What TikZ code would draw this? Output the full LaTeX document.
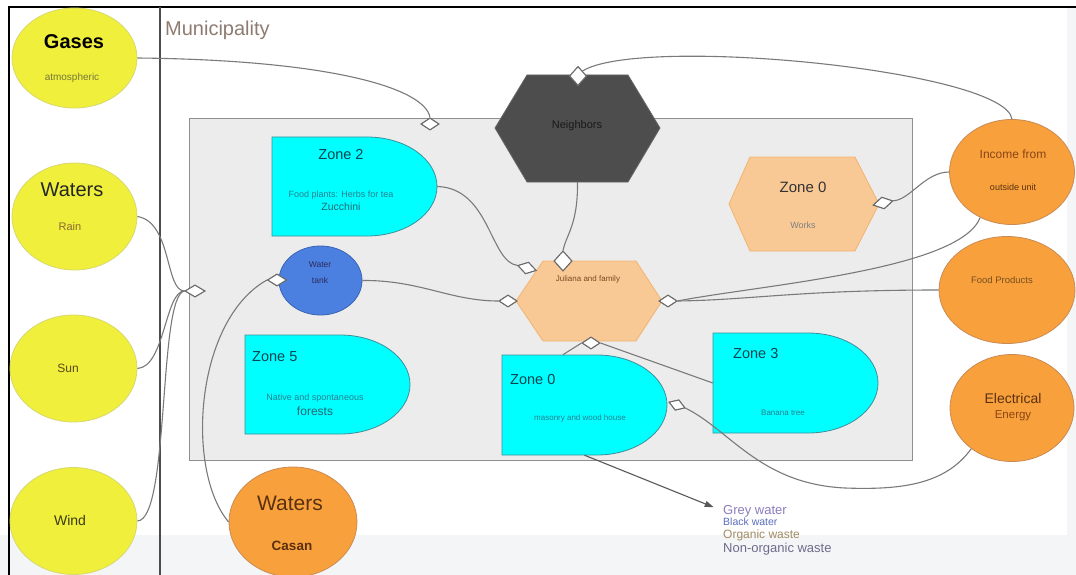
\documentclass[tikz,border=0pt]{standalone}
\usepackage{fontspec}
\setmainfont{Liberation Sans}
\usetikzlibrary{shapes.geometric,arrows.meta,calc}
\definecolor{yfill}{HTML}{EFEF3C}
\definecolor{ybord}{HTML}{D8D870}
\definecolor{ofill}{HTML}{F8A13C}
\definecolor{obord}{HTML}{C98A55}
\definecolor{cfill}{HTML}{00FFFF}
\definecolor{cbord}{HTML}{3F8F99}
\definecolor{hfill}{HTML}{F8C995}
\definecolor{hbord}{HTML}{F1B472}
\definecolor{nfill}{HTML}{4D4D4D}
\definecolor{tfill}{HTML}{4C80E0}
\definecolor{tbord}{HTML}{3A63B5}
\definecolor{mfill}{HTML}{ECECEC}
\definecolor{mbord}{HTML}{8F8F8F}
\definecolor{lineg}{HTML}{7A7A7A}
\definecolor{diag}{HTML}{6A6A6A}
\definecolor{bandc}{HTML}{F4F5F7}
\definecolor{ztxt}{HTML}{0A4450}
\definecolor{zsub}{HTML}{2A8090}
\definecolor{otxt}{HTML}{5A3010}
\definecolor{obrown}{HTML}{8A4414}
\definecolor{fptxt}{HTML}{7A4E20}
\definecolor{muntxt}{HTML}{8E7B72}
\definecolor{raintxt}{HTML}{8A6A30}
\definecolor{atmtxt}{HTML}{77773E}
\definecolor{sunt}{HTML}{5A4A14}
\definecolor{windt}{HTML}{3A3A14}
\definecolor{jultxt}{HTML}{7A4A22}
\definecolor{tanktxt}{HTML}{2A2A5A}
\definecolor{lgone}{HTML}{8C7CBC}
\definecolor{lgtwo}{HTML}{5A6FBE}
\definecolor{lgthree}{HTML}{A08C62}
\definecolor{lgfour}{HTML}{6C6C8C}
\newcommand\fsz[1]{\fontsize{#1}{#1}\selectfont}
\tikzset{
 conn/.style={draw=lineg,line width=1.1pt},
 dia/.style={diamond,draw=diag,fill=white,line width=1pt,inner sep=0pt,minimum width=19pt,minimum height=12pt},
 bub/.style={ellipse,line width=0.8pt,inner sep=0pt},
 ybub/.style={bub,draw=ybord,fill=yfill},
 obub/.style={bub,draw=obord,fill=ofill},
 zonep/.style={draw=cbord,fill=cfill,line width=0.8pt},
 hexp/.style={draw=hbord,fill=hfill,line width=0.8pt},
 area/.style={rectangle,inner sep=0pt},
 txt/.style={inner sep=0pt},
}
\begin{document}
\begin{tikzpicture}[x=1pt,y=-1pt]
\useasboundingbox (0,0) rectangle (1076,575);
\fill[white] (0,0) rectangle (1076,575);
\fill[bandc] (0,535) rectangle (1076,575);
\fill[bandc] (1067,8) rectangle (1076,575);
% frame
\draw[line width=2pt] (9,576) -- (9,7) -- (1077,7);
\draw[line width=1.2pt,color=black!70] (160,7) -- (160,576);
\node[txt,anchor=west,text=muntxt,font=\fsz{20}] (muntitle) at (165,30) {Municipality};
% municipality area
\node[area,draw=mbord,fill=mfill,line width=1pt,minimum width=723pt,minimum height=341pt] (mun) at (550.5,289.5) {};
% left bubbles
\node[ybub,minimum width=125pt,minimum height=100pt] (gas) at (74.5,58) {};
\node[ybub,minimum width=125pt,minimum height=107pt] (wat) at (74.5,216.5) {};
\node[ybub,minimum width=127pt,minimum height=107pt] (sun) at (73.5,368.5) {};
\node[ybub,minimum width=127pt,minimum height=107pt] (wind) at (73.5,521) {};
\node[txt,font=\bfseries\fsz{20}] (tgas) at (74,42) {Gases};
\node[txt,font=\fsz{10},text=atmtxt] (tatm) at (72,78) {atmospheric};
\node[txt,font=\fsz{20},text=black!85] (twat) at (72,190) {Waters};
\node[txt,font=\fsz{11},text=raintxt] (train) at (70,227) {Rain};
\node[txt,font=\fsz{12},text=sunt] (tsun) at (68,368) {Sun};
\node[txt,font=\fsz{14},text=windt] (twind) at (70,520) {Wind};
% zones (D shapes)
\path[zonep] (272,137) -- (367,137) arc[start angle=90,end angle=-90,x radius=70pt,y radius=49.5pt] -- (272,236) -- cycle;
\node[area,minimum width=165pt,minimum height=99pt] (z2) at (354.5,186.5) {};
\path[zonep] (245,335) -- (340,335) arc[start angle=90,end angle=-90,x radius=70pt,y radius=49.5pt] -- (245,434) -- cycle;
\node[area,minimum width=165pt,minimum height=99pt] (z5) at (327.5,384.5) {};
\path[zonep] (502,355) -- (597,355) arc[start angle=90,end angle=-90,x radius=70pt,y radius=50pt] -- (502,455) -- cycle;
\node[area,minimum width=165pt,minimum height=100pt] (z0b) at (584.5,405) {};
\path[zonep] (713,333) -- (808,333) arc[start angle=90,end angle=-90,x radius=70pt,y radius=50pt] -- (713,433) -- cycle;
\node[area,minimum width=165pt,minimum height=100pt] (z3) at (795.5,383) {};
\node[txt,font=\fsz{14.5},text=ztxt] (tz2) at (341,155) {Zone 2};
\node[txt,font=\fsz{9},text=zsub] (tz2a) at (341,195) {Food plants: Herbs for tea};
\node[txt,font=\fsz{10.5},text=zsub!80!black] (tz2b) at (341,207) {Zucchini};
\node[txt,anchor=west,font=\fsz{14.5},text=ztxt] (tz5) at (252,357) {Zone 5};
\node[txt,font=\fsz{9},text=zsub] (tz5a) at (315,398) {Native and spontaneous};
\node[txt,font=\fsz{12},text=zsub!80!black] (tz5b) at (315,411) {forests};
\node[txt,anchor=west,font=\fsz{14.5},text=ztxt] (tz0b) at (510,380) {Zone 0};
\node[txt,font=\fsz{8},text=zsub] (tz0ba) at (580,418) {masonry and wood house};
\node[txt,anchor=west,font=\fsz{14.5},text=ztxt] (tz3) at (733,354) {Zone 3};
\node[txt,font=\fsz{8},text=zsub] (tz3a) at (783,413) {Banana tree};
% hexagons
\path[draw=black!60,fill=nfill,line width=0.8pt] (495,128) -- (527,75) -- (628,75) -- (660,128) -- (628,182) -- (527,182) -- cycle;
\node[area,minimum width=165pt,minimum height=107pt] (nb) at (577.5,128.5) {};
\node[txt,font=\fsz{11},text=black!90] (tnb) at (577,126) {Neighbors};
\path[hexp] (516,301) -- (543,261) -- (636,261) -- (662,301) -- (636,341) -- (543,341) -- cycle;
\node[area,minimum width=146pt,minimum height=80pt] (jul) at (589,301) {};
\node[txt,font=\fsz{8},text=jultxt] (tjul) at (588,279) {Juliana and family};
\path[hexp] (729,204) -- (750,157) -- (855,157) -- (879,204) -- (855,251) -- (750,251) -- cycle;
\node[area,minimum width=150pt,minimum height=94pt] (wk) at (804,204) {};
\node[txt,font=\fsz{15},text=black!80] (twk) at (803,187) {Zone 0};
\node[txt,font=\fsz{9},text=black!50] (twka) at (803,225) {Works};
% water tank
\node[bub,draw=tbord,fill=tfill,minimum width=83pt,minimum height=69pt] (wt) at (320.5,280.5) {};
\node[txt,font=\fsz{8.5},text=tanktxt] (twt1) at (320,265) {Water};
\node[txt,font=\fsz{8.5},text=tanktxt] (twt2) at (320,280) {tank};
% orange bubbles
\node[obub,minimum width=125pt,minimum height=105pt] (inc) at (1012,172) {};
\node[obub,minimum width=136pt,minimum height=107pt] (fp) at (1007,290) {};
\node[obub,minimum width=124pt,minimum height=107pt] (el) at (1012,408) {};
\node[obub,minimum width=128pt,minimum height=110pt] (cas) at (293,522) {};
\node[txt,font=\fsz{12},text=obrown] (tinc1) at (1013,154) {Income from};
\node[txt,font=\fsz{9},text=otxt] (tinc2) at (1013,187) {outside unit};
\node[txt,font=\fsz{9.5},text=fptxt] (tfp) at (1002,280) {Food Products};
\node[txt,font=\fsz{14},text=otxt] (tel1) at (1013,398) {Electrical};
\node[txt,font=\fsz{11.5},text=obrown] (tel2) at (1013,416) {Energy};
\node[txt,font=\fsz{21},text=otxt] (tcas1) at (290,503) {Waters};
\node[txt,font=\bfseries\fsz{13.5},text=otxt] (tcas2) at (292,546) {Casan};
% legend
\node[txt,anchor=west,font=\fsz{13},text=lgone] (lg1) at (723,511) {Grey water};
\node[txt,anchor=west,font=\fsz{10.5},text=lgtwo] (lg2) at (723,522) {Black water};
\node[txt,anchor=west,font=\fsz{12},text=lgthree] (lg3) at (723,535) {Organic waste};
\node[txt,anchor=west,font=\fsz{13},text=lgfour] (lg4) at (723,549) {Non-organic waste};
% diamonds
\node[dia,minimum width=18pt] (dGas) at (430,124) {};
\node[dia,minimum width=17pt,minimum height=19pt] (dNb) at (578,76) {};
\node[dia,minimum width=18pt,minimum height=20pt] (dJt) at (563,261) {};
\node[dia,rotate=-15] (dJul) at (527,268) {};
\node[dia,minimum width=18pt] (dJl) at (508,301) {};
\node[dia,minimum width=18pt] (dJr) at (668,301) {};
\node[dia,minimum width=18pt] (dJb) at (591,343) {};
\node[dia,minimum width=20pt,rotate=12] (dZ0w) at (883,203) {};
\node[dia,minimum width=17pt,minimum height=11pt,rotate=-20] (dZ0b) at (677,405) {};
\node[dia] (dWt) at (277,280) {};
\node[dia,minimum width=20pt] (dL) at (195,291) {};
% connectors
\draw[conn] (gas.east) .. controls (330,60) and (425,88) .. (dGas.north);
\draw[conn] (inc.north) .. controls (1005,70) and (640,35) .. (dNb.north east);
\draw[conn] (nb.south) .. controls (578,225) and (566,235) .. (dJt.north);
\draw[conn] (z2.east) .. controls (490,188) and (490,262) .. (dJul.west);
\draw[conn] (wt.east) .. controls (420,280) and (450,301) .. (dJl.west);
\draw[conn] (cas.west) .. controls (185,470) and (195,320) .. (dWt.west);
\draw[conn] (wat.east) .. controls (172,222) and (165,291) .. (dL.west);
\draw[conn] (sun.east) .. controls (165,367) and (165,291) .. (dL.west);
\draw[conn] (wind.east) .. controls (170,520) and (158,295) .. (dL.west);
\draw[conn] (inc.west) .. controls (925,172) and (910,200) .. (dZ0w.east);
\draw[conn] (inc.-125) .. controls (960,270) and (760,285) .. (dJr.east);
\draw[conn] (fp.west) .. controls (800,290) and (750,300) .. (dJr.east);
\draw[conn] (dJb.west) -- ($(z0b.north west)+(61,0)$);
\draw[conn] (dJb.east) -- (z3.west);
\draw[conn] (el.-135) .. controls (945,485) and (900,490) .. (845,488) .. controls (760,484) and (730,430) .. (dZ0b.east);
\draw[conn,draw=black!65,-{Triangle[length=9pt,width=6pt]},shorten >=10pt] (z0b.south) -- (lg1.west);
% redraw diamonds on top
\node[dia,minimum width=18pt] at (dGas) {};
\node[dia,minimum width=17pt,minimum height=19pt] at (dNb) {};
\node[dia,minimum width=18pt,minimum height=20pt] at (dJt) {};
\node[dia,rotate=-15] at (dJul) {};
\node[dia,minimum width=18pt] at (dJl) {};
\node[dia,minimum width=18pt] at (dJr) {};
\node[dia,minimum width=18pt] at (dJb) {};
\node[dia,minimum width=20pt,rotate=12] at (dZ0w) {};
\node[dia,minimum width=17pt,minimum height=11pt,rotate=-20] at (dZ0b) {};
\node[dia] at (dWt) {};
\node[dia,minimum width=20pt] at (dL) {};
\end{tikzpicture}
\end{document}
